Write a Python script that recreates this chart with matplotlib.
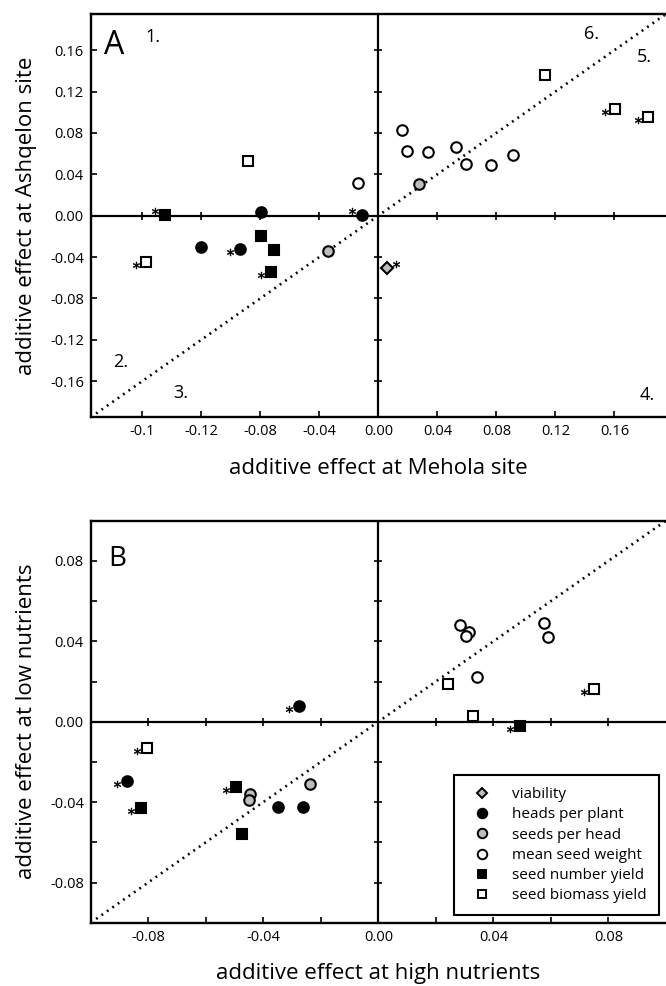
import numpy as np
import matplotlib
matplotlib.use('Agg')
import matplotlib.pyplot as plt
from matplotlib.transforms import offset_copy

plt.rcParams['font.family'] = ['Open Sans', 'DejaVu Sans']

TRAITS = ['viability', 'heads per plant', 'seeds per head', 'mean seed weight',
          'seed number yield', 'seed biomass yield']
MARKER = {'viability': 'D', 'heads per plant': 'o', 'seeds per head': 'o',
          'mean seed weight': 'o', 'seed number yield': 's', 'seed biomass yield': 's'}
FILL = {'viability': '#bdbdbd', 'heads per plant': 'black', 'seeds per head': '#bdbdbd',
        'mean seed weight': 'white', 'seed number yield': 'black', 'seed biomass yield': 'white'}
SIZE = {'D': 6.2, 'o': 7.6, 's': 6.6}

# Panel A: Mehola (x) vs Ashqelon (y); star code: l = left, u = left-above, r = right-above
A_x = {
    'viability': [0.006],
    'heads per plant': [-0.0795, -0.120, -0.0937, -0.0114],
    'seeds per head': [-0.034, 0.0274],
    'mean seed weight': [-0.0137, 0.0161, 0.0195, 0.0337, 0.0529, 0.0592, 0.0766, 0.0912],
    'seed number yield': [-0.1449, -0.0795, -0.0707, -0.0727],
    'seed biomass yield': [-0.0883, -0.1575, 0.1133, 0.1607, 0.1825],
}
A_y = {
    'viability': [-0.051],
    'heads per plant': [0.004, -0.030, -0.032, 0.001],
    'seeds per head': [-0.0346, 0.031],
    'mean seed weight': [0.032, 0.0833, 0.0626, 0.062, 0.0661, 0.0497, 0.0494, 0.059],
    'seed number yield': [0.001, -0.0197, -0.0329, -0.0542],
    'seed biomass yield': [0.0532, -0.0445, 0.1358, 0.1036, 0.0958],
}
A_star = {
    'viability': ['r'],
    'heads per plant': ['', '', 'l', 'u'],
    'seeds per head': ['', ''],
    'mean seed weight': [''] * 8,
    'seed number yield': ['u', '', '', 'l'],
    'seed biomass yield': ['', 'l', '', 'l', 'l'],
}

# Panel B: high nutrients (x) vs low nutrients (y)
B_x = {
    'viability': [],
    'heads per plant': [-0.0275, -0.0873, -0.035, -0.0261],
    'seeds per head': [-0.0446, -0.0451, -0.0238],
    'mean seed weight': [0.0283, 0.0316, 0.0304, 0.0575, 0.0589, 0.0344],
    'seed number yield': [-0.0826, -0.0494, -0.0474, 0.0491],
    'seed biomass yield': [-0.0806, 0.0243, 0.033, 0.0748],
}
B_y = {
    'viability': [],
    'heads per plant': [0.0078, -0.0296, -0.0424, -0.0424],
    'seeds per head': [-0.0359, -0.0389, -0.031],
    'mean seed weight': [0.0481, 0.0444, 0.0426, 0.049, 0.042, 0.0224],
    'seed number yield': [-0.0429, -0.0326, -0.0558, -0.0023],
    'seed biomass yield': [-0.0131, 0.0189, 0.0027, 0.0163],
}
B_star = {
    'viability': [],
    'heads per plant': ['l', 'l', '', ''],
    'seeds per head': ['', '', ''],
    'mean seed weight': [''] * 6,
    'seed number yield': ['l', 'l', '', 'l'],
    'seed biomass yield': ['l', '', '', 'l'],
}

A_ticks = [-0.16, -0.12, -0.08, -0.04, 0.00, 0.04, 0.08, 0.12, 0.16]
A_xlabels = ['-0.1', '-0.12', '-0.08', '-0.04', '0.00', '0.04', '0.08', '0.12', '0.16']
A_ylabels = ['-0.16', '-0.12', '-0.08', '-0.04', '0.00', '0.04', '0.08', '0.12', '0.16']
B_ticks = [-0.08, -0.06, -0.04, -0.02, 0.00, 0.02, 0.04, 0.06, 0.08]
B_labels = ['-0.08', '', '-0.04', '', '0.00', '', '0.04', '', '0.08']

QUAD = ['1.', '2.', '3.', '4.', '5.', '6.']
QUAD_X = [-0.1528, -0.1744, -0.1338, 0.1821, 0.1806, 0.1448]
QUAD_Y = [0.1723, -0.1413, -0.1713, -0.1733, 0.1539, 0.1752]

W, H = 666, 986
fig = plt.figure(figsize=(W / 100, H / 100), dpi=100)
L = 90.7
axA = fig.add_axes([L / W, 1 - 417.3 / H, (W - L) / W, (417.3 - 14) / H])
axB = fig.add_axes([L / W, 1 - 922.7 / H, (W - L) / W, (922.7 - 520.7) / H])

STAR_OFF = {'l': (-10, -3), 'u': (-10, 4), 'r': (9, 4)}


def draw(ax, xs, ys, stars, lim, ticks, xlabels, ylabels, xlabel, ylabel):
    ax.set_xlim(-lim, lim)
    ax.set_ylim(-lim, lim)
    for s in ['top', 'left', 'bottom']:
        ax.spines[s].set_linewidth(1.7)
    ax.spines['right'].set_visible(False)
    ax.set_xticks(ticks)
    ax.set_yticks(ticks)
    ax.set_xticklabels(xlabels)
    ax.set_yticklabels(ylabels)
    ax.tick_params(direction='in', length=4, width=1.2, labelsize=10.5, pad=5)
    # centre axes with crossing ticks
    ax.axhline(0, color='black', lw=1.6, zorder=1)
    ax.axvline(0, color='black', lw=1.6, zorder=1)
    t = np.array(ticks)
    t = t[t != 0]
    ax.plot(t, np.zeros_like(t), ls='none', marker='|', ms=6, mew=1.2, color='black', zorder=1)
    ax.plot(np.zeros_like(t), t, ls='none', marker='_', ms=6, mew=1.2, color='black', zorder=1)
    ax.axline((0, 0), slope=1, color='black', lw=1.9, ls=(0, (0.7, 1.8)), zorder=1)
    for tr in TRAITS:
        m = MARKER[tr]
        ax.plot(xs[tr], ys[tr], ls='none', marker=m, ms=SIZE[m], mfc=FILL[tr],
                mec='black', mew=1.5, zorder=3)
        for code, (dx, dy) in STAR_OFF.items():
            px = [x for x, s in zip(xs[tr], stars[tr]) if s == code]
            py = [y for y, s in zip(ys[tr], stars[tr]) if s == code]
            if px:
                trans = offset_copy(ax.transData, fig=fig, x=dx, y=dy, units='dots')
                ax.plot(px, py, ls='none', marker='$*$', ms=5, color='black',
                        mew=0.4, transform=trans, zorder=4)
    ax.set_xlabel(xlabel, fontsize=16, va='center')
    ax.set_ylabel(ylabel, fontsize=16, va='center')
    ax.xaxis.set_label_coords(0.5, -0.126)
    ax.yaxis.set_label_coords(-0.112, 0.5)


draw(axA, A_x, A_y, A_star, 0.195, A_ticks, A_xlabels, A_ylabels,
     'additive effect at Mehola site', 'additive effect at Ashqelon site')
draw(axB, B_x, B_y, B_star, 0.1, B_ticks, B_labels, B_labels,
     'additive effect at high nutrients', 'additive effect at low nutrients')

axA.text(-0.1793, 0.1646, 'A', fontsize=23, ha='center', va='center')
axB.text(-0.0909, 0.0809, 'B', fontsize=20, ha='center', va='center')
for q, qx, qy in zip(QUAD, QUAD_X, QUAD_Y):
    axA.text(qx, qy, q, fontsize=13, ha='center', va='center')

handles = [plt.Line2D([], [], ls='none', marker=MARKER[tr], ms=SIZE[MARKER[tr]] * 0.9,
                      mfc=FILL[tr], mec='black', mew=1.4, label=tr) for tr in TRAITS]
leg = axB.legend(handles=handles, loc='lower right', bbox_to_anchor=(0.988, 0.018),
                 fontsize=11, frameon=True, fancybox=False, framealpha=1,
                 handlelength=2.1, handletextpad=0.9, labelspacing=0.34,
                 borderpad=0.8, borderaxespad=0)
leg.get_frame().set_edgecolor('black')
leg.get_frame().set_linewidth(1.5)

fig.savefig('out.png', dpi=100)
